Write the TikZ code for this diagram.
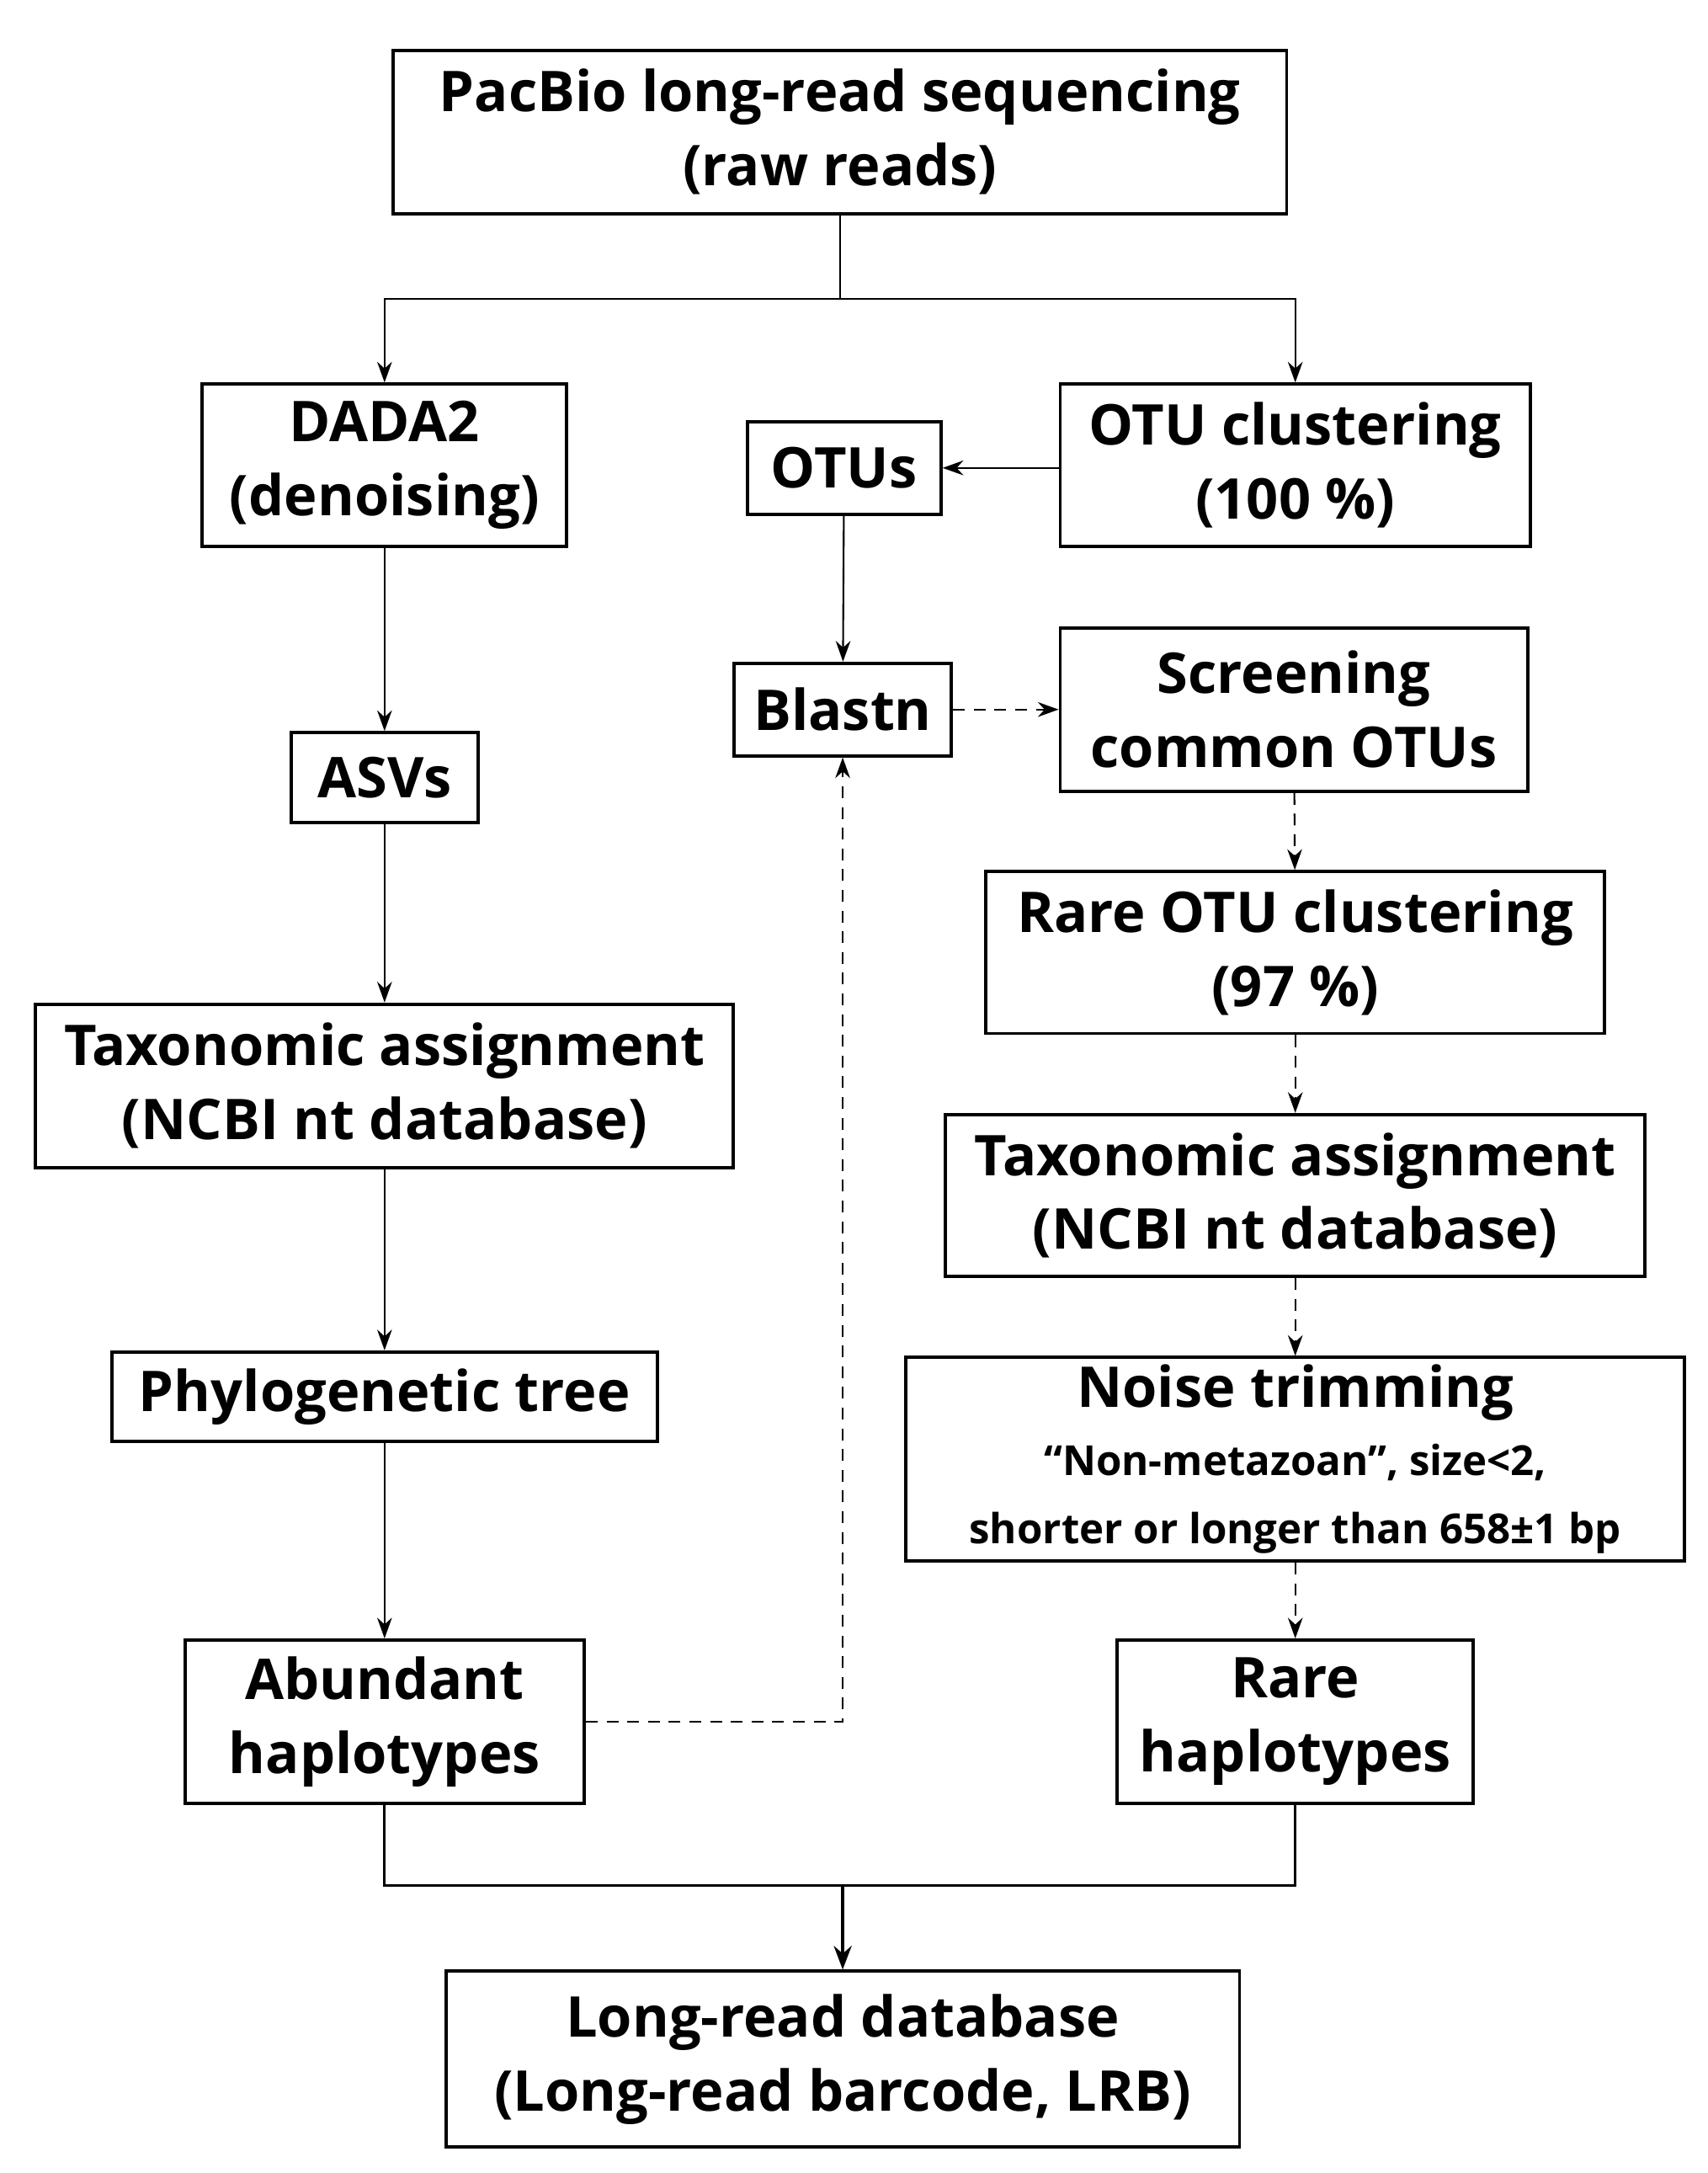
\documentclass[tikz,border=0pt]{standalone}
\usepackage{fontspec}
\setmainfont{Open Sans}
\usetikzlibrary{arrows.meta}
\begin{document}
\begin{tikzpicture}[x=0.01649cm,y=-0.01649cm,
 box/.style={draw,line width=1.1pt,align=center,font=\fontsize{19}{25}\selectfont\bfseries,inner sep=0pt},
 ln/.style={line width=0.6pt,-{Stealth[length=7pt,width=5pt]}},
 dl/.style={ln,dash pattern=on 4pt off 3pt}]
\useasboundingbox (0,0) rectangle (1230,1565);
\newcommand\bx[6]{\node[box,minimum width=#4*0.01649cm-1.1pt,minimum height=#5*0.01649cm-1.1pt] (#1) at (#2,#3) {#6};}
\bx{pac}{605}{95}{646}{120}{PacBio long-read sequencing\\(raw reads)}
\bx{dada}{277}{335}{265}{119}{DADA2\\(denoising)}
\bx{otus}{608}{337}{142}{69}{OTUs}
\bx{otuc}{933}{335}{341}{119}{OTU clustering\\(100 \%)}
\bx{blast}{607}{511}{159}{69}{Blastn}
\bx{scr}{932}{511}{339}{120}{Screening\\common OTUs}
\bx{asv}{277}{560}{137}{67}{ASVs}
\bx{rotu}{933}{686}{448}{119}{Rare OTU clustering\\(97 \%)}
\bx{taxl}{277}{782}{505}{120}{Taxonomic assignment\\(NCBI nt database)}
\bx{taxr}{933}{861}{506}{119}{Taxonomic assignment\\(NCBI nt database)}
\bx{phy}{277}{1006}{395}{67}{Phylogenetic tree}
\bx{noise}{933}{1051}{563}{149}{Noise trimming\\[-2pt]{\fontsize{14}{17}\selectfont “Non-metazoan”, size<2,}\\[-2pt]{\fontsize{14}{17}\selectfont shorter or longer than 658±1 bp}}
\bx{abun}{277}{1240}{290}{120}{Abundant\\haplotypes}
\bx{rare}{933}{1240}{259}{120}{Rare\\haplotypes}
\bx{lrb}{607}{1483}{574}{129}{Long-read database\\(Long-read barcode, LRB)}
\coordinate (j) at (605,215);
\draw[line width=0.6pt] (pac.south) -- (j);
\draw[ln] (j) -| (dada.north);
\draw[ln] (j) -| (otuc.north);
\draw[ln] (otuc.west|-otus) -- (otus.east);
\draw[ln] (otus) -- (blast);
\draw[dl] (blast) -- (scr);
\draw[dl] (scr) -- (rotu);
\draw[dl] (rotu) -- (taxr);
\draw[dl] (taxr) -- (noise);
\draw[dl] (noise) -- (rare);
\draw[ln] (dada) -- (asv);
\draw[ln] (asv) -- (taxl);
\draw[ln] (taxl) -- (phy);
\draw[ln] (phy) -- (abun);
\draw[dl] (abun.east) -| (blast.south);
\coordinate (m) at (607,1358);
\draw[line width=0.9pt] (abun.south) |- (m) -| (rare.south);
\draw[line width=1.2pt,-{Stealth[length=8pt,width=6pt]}] (m) -- (lrb.north);
\end{tikzpicture}
\end{document}
